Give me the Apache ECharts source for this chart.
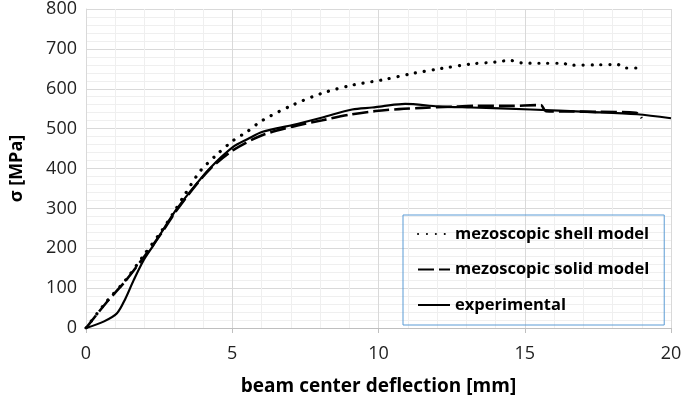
<!DOCTYPE html>
<html>
<head>
<meta charset="utf-8">
<script src="https://cdn.jsdelivr.net/npm/echarts@6/dist/echarts.min.js"></script>
<style>html,body{margin:0;padding:0;background:#fff}#c{width:685px;height:403px}</style>
</head>
<body>
<div id="c"></div>
<script>
var seriesNames = ['mezoscopic shell model', 'mezoscopic solid model', 'experimental'];

var shellX = [0, 0.7, 1.35, 2.0, 2.6, 3.0, 3.33, 3.89, 4.46, 5.03, 5.5, 6.04, 7.06, 8.08, 9.1, 10.12, 11.14, 12.16, 13.17, 14.0, 14.5, 14.87, 15.5, 16.3, 16.55, 17.5, 18.16, 18.45, 19.0];
var shellY = [0, 66, 120, 185, 245, 290, 329, 392, 434, 470, 492, 521, 559, 589, 609, 622, 638, 651, 662, 667, 671, 665, 664, 664, 659, 660, 661, 652, 652];

var solidX = [0, 0.7, 1.35, 2.0, 2.6, 3.0, 3.56, 4.23, 5.03, 6.04, 7.06, 8.08, 9.1, 9.9, 10.7, 11.48, 12.5, 13.3, 14.5, 15.55, 15.72, 16.5, 17.5, 18.8, 19.0];
var solidY = [0, 64, 118, 180, 240, 285, 340, 398, 446, 484, 505, 521, 536, 544, 549, 552, 555, 557, 557, 559, 544, 543, 542, 540, 526];

var expX = [0, 0.6, 1.06, 1.35, 1.63, 1.97, 2.31, 2.99, 3.56, 4.23, 5.03, 5.53, 6.04, 7.06, 8.08, 9.1, 9.78, 10.12, 10.91, 12.04, 13.17, 15.2, 17.14, 18.84, 20];
var expY = [0, 16, 37, 74, 120, 170, 208, 287, 342, 400, 454, 474, 492, 509, 528, 548, 553, 556, 562, 556, 553, 548, 542, 536, 526];

var xTicks = [0, 5, 10, 15, 20];
var yTicks = [0, 100, 200, 300, 400, 500, 600, 700, 800];

function pairs(xs, ys) { return xs.map(function (x, i) { return [x, ys[i]]; }); }

var font = 'Open Sans';
var chart = echarts.init(document.getElementById('c'), null, { renderer: 'canvas' });
chart.setOption({
  animation: false,
  backgroundColor: '#fff',
  grid: { left: 82, right: 14, top: 9, bottom: 75, containLabel: false },
  legend: {
    orient: 'vertical',
    left: 403, top: 215,
    padding: [9, 15, 10, 14],
    borderColor: '#5b9bd5', borderWidth: 1,
    itemWidth: 32, itemHeight: 14, itemGap: 15.5,
    itemStyle: { opacity: 0 },
    data: seriesNames,
    textStyle: { fontFamily: font, fontWeight: 'bold', fontSize: 16.5, color: '#000', lineHeight: 20 }
  },
  xAxis: {
    type: 'value', min: xTicks[0], max: xTicks[xTicks.length - 1], interval: 5,
    name: 'beam center deflection [mm]', nameLocation: 'middle', nameGap: 49,
    nameTextStyle: { fontFamily: font, fontWeight: 'bold', fontSize: 19, color: '#000' },
    axisLine: { show: true, lineStyle: { color: '#bfbfbf', width: 1 } },
    axisTick: { show: true, length: 5, lineStyle: { color: '#bfbfbf' } },
    axisLabel: { fontFamily: font, fontSize: 18, color: '#222', margin: 17 },
    splitLine: { show: true, lineStyle: { color: '#d9d9d9', width: 1 } },
    minorTick: { show: false, splitNumber: 5 },
    minorSplitLine: { show: true, lineStyle: { color: '#efefef', width: 1 } }
  },
  yAxis: {
    type: 'value', min: yTicks[0], max: yTicks[yTicks.length - 1], interval: 100,
    name: 'σ [MPa]', nameLocation: 'middle', nameGap: 60, nameRotate: 90,
    nameTextStyle: { fontFamily: font, fontWeight: 'bold', fontSize: 18, color: '#000' },
    axisLine: { show: true, lineStyle: { color: '#d9d9d9', width: 1 } },
    axisTick: { show: false },
    axisLabel: { fontFamily: font, fontSize: 18, color: '#222', margin: 9 },
    splitLine: { show: true, lineStyle: { color: '#d9d9d9', width: 1 } },
    minorTick: { show: false, splitNumber: 5 },
    minorSplitLine: { show: true, lineStyle: { color: '#efefef', width: 1 } }
  },
  series: [
    {
      name: seriesNames[0], type: 'line', showSymbol: false, symbol: 'none', smooth: 0.3,
      data: pairs(shellX, shellY),
      lineStyle: { color: '#000', width: 3.2, type: [0.1, 8.8], cap: 'round' },
      itemStyle: { color: '#000' }, z: 3
    },
    {
      name: seriesNames[1], type: 'line', showSymbol: false, symbol: 'none', smooth: 0.3,
      data: pairs(solidX, solidY),
      lineStyle: { color: '#000', width: 2.6, type: [16, 5] },
      itemStyle: { color: '#000' }, z: 4
    },
    {
      name: seriesNames[2], type: 'line', showSymbol: false, symbol: 'none', smooth: 0.3,
      data: pairs(expX, expY),
      lineStyle: { color: '#000', width: 2.2 },
      itemStyle: { color: '#000' }, z: 5
    }
  ]
});
</script>
</body>
</html>
